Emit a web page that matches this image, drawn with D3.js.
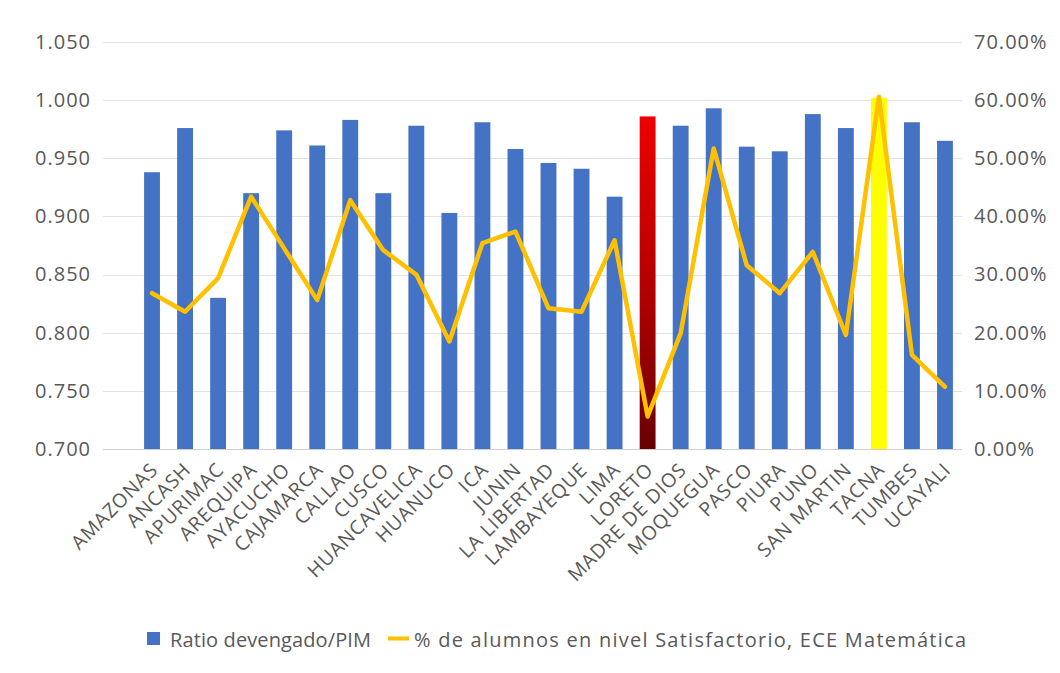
<!DOCTYPE html>
<html>
<head>
<meta charset="utf-8">
<script src="https://cdn.jsdelivr.net/npm/d3@7"></script>
<style>
  html, body { margin: 0; padding: 0; background: #ffffff; }
  svg { display: block; font-family: "Open Sans", "Noto Sans", sans-serif; }
</style>
</head>
<body>
<svg id="chart" width="1060" height="673"></svg>
<script>
// Regions of Peru
const regions = ["AMAZONAS", "ANCASH", "APURIMAC", "AREQUIPA", "AYACUCHO", "CAJAMARCA",
  "CALLAO", "CUSCO", "HUANCAVELICA", "HUANUCO", "ICA", "JUNIN", "LA LIBERTAD",
  "LAMBAYEQUE", "LIMA", "LORETO", "MADRE DE DIOS", "MOQUEGUA", "PASCO", "PIURA",
  "PUNO", "SAN MARTIN", "TACNA", "TUMBES", "UCAYALI"];

// Ratio devengado / PIM (left axis)
const ratioDevengado = [0.938, 0.976, 0.830, 0.920, 0.974, 0.961, 0.983, 0.920, 0.978,
  0.903, 0.981, 0.958, 0.946, 0.941, 0.917, 0.986, 0.978, 0.993, 0.960, 0.956, 0.988,
  0.976, 1.002, 0.981, 0.965];

// % of students at the satisfactory level, ECE Mathematics (right axis)
const pctSatisfactorio = [0.268, 0.236, 0.294, 0.434, 0.345, 0.256, 0.428, 0.342, 0.300,
  0.185, 0.354, 0.374, 0.242, 0.236, 0.359, 0.056, 0.199, 0.517, 0.316, 0.268, 0.339,
  0.196, 0.606, 0.162, 0.107];

// Axis ticks
const leftTicks = [0.700, 0.750, 0.800, 0.850, 0.900, 0.950, 1.000, 1.050];
const rightTicks = [0, 0.1, 0.2, 0.3, 0.4, 0.5, 0.6, 0.7];

const seriesNames = ["Ratio devengado/PIM", "% de alumnos en nivel Satisfactorio, ECE Matemática"];

const highlightLow = "LORETO";
const highlightHigh = "TACNA";

const svg = d3.select("#chart");
const plot = { left: 103, right: 962, top: 42, bottom: 449 };
const textColor = "#595959";

const x = d3.scaleBand()
  .domain(regions)
  .range([135.5, 961.5])
  .paddingInner(0.52)
  .paddingOuter(0.26);

const yLeft = d3.scaleLinear().domain([0.7, 1.05]).range([plot.bottom, plot.top]);
const yRight = d3.scaleLinear().domain([0, 0.7]).range([plot.bottom, plot.top]);

// Gradient for the lowest-result region
const defs = svg.append("defs");
const grad = defs.append("linearGradient")
  .attr("id", "lowGrad").attr("x1", 0).attr("y1", 0).attr("x2", 0).attr("y2", 1);
grad.append("stop").attr("offset", "0%").attr("stop-color", "#ee0000");
grad.append("stop").attr("offset", "55%").attr("stop-color", "#b00000");
grad.append("stop").attr("offset", "100%").attr("stop-color", "#680000");

// Horizontal gridlines
svg.append("g")
  .selectAll("line")
  .data(leftTicks)
  .join("line")
  .attr("x1", plot.left).attr("x2", plot.right)
  .attr("y1", d => Math.round(yLeft(d)) + 0.5)
  .attr("y2", d => Math.round(yLeft(d)) + 0.5)
  .attr("stroke", (d, i) => i === 0 ? "#cfcfcf" : "#e2e2e2")
  .attr("stroke-width", 1);

// Left axis labels
const leftAxis = d3.axisLeft(yLeft)
  .tickValues(leftTicks)
  .tickFormat(d => d3.format(".3f")(d))
  .tickSize(0)
  .tickPadding(0);
const gl = svg.append("g").attr("transform", "translate(91,0)").call(leftAxis);
gl.select(".domain").remove();
gl.selectAll("text").attr("fill", textColor).style("font-size", "20px")
  .style("letter-spacing", "1px")
  .style("font-family", "'Open Sans', sans-serif");

// Right axis labels
const rightAxis = d3.axisRight(yRight)
  .tickValues(rightTicks)
  .tickFormat(d => d3.format(".2%")(d))
  .tickSize(0)
  .tickPadding(0);
const gr = svg.append("g").attr("transform", "translate(974,0)").call(rightAxis);
gr.select(".domain").remove();
gr.selectAll("text").attr("fill", textColor).style("font-size", "20px")
  .style("letter-spacing", "1px")
  .style("font-family", "'Open Sans', sans-serif");

// Bars
const barData = regions.map((r, i) => ({ region: r, value: ratioDevengado[i] }));
svg.append("g")
  .selectAll("rect")
  .data(barData)
  .join("rect")
  .attr("x", d => x(d.region))
  .attr("width", x.bandwidth())
  .attr("y", d => yLeft(d.value))
  .attr("height", d => yLeft(0.7) - yLeft(d.value))
  .attr("fill", d => d.region === highlightLow ? "url(#lowGrad)"
    : d.region === highlightHigh ? "#ffff00" : "#4472c4");

// Line series
const lineData = regions.map((r, i) => ({ region: r, value: pctSatisfactorio[i] }));
const line = d3.line()
  .x(d => x(d.region) + x.bandwidth() / 2)
  .y(d => yRight(d.value));
svg.append("path")
  .datum(lineData)
  .attr("d", line)
  .attr("fill", "none")
  .attr("stroke", "#ffc000")
  .attr("stroke-width", 4.5)
  .attr("stroke-linejoin", "round")
  .attr("stroke-linecap", "round");

// Category labels, rotated
const xAxis = d3.axisBottom(x).tickSize(0).tickPadding(0);
const gx = svg.append("g").attr("transform", `translate(0,${plot.bottom})`).call(xAxis);
gx.select(".domain").remove();
gx.selectAll(".tick text")
  .attr("fill", textColor)
  .style("font-size", "19.5px")
  .style("letter-spacing", "0.8px")
  .style("font-family", "'Open Sans', sans-serif")
  .attr("text-anchor", "end")
  .attr("dy", 0)
  .attr("transform", "translate(7,22) rotate(-45)");

// Legend
const legend = svg.append("g").attr("transform", "translate(0,640)");
legend.append("rect")
  .attr("x", 147).attr("y", -8).attr("width", 13).attr("height", 13)
  .attr("fill", "#4472c4");
legend.append("text")
  .attr("x", 170).attr("y", 7)
  .attr("fill", textColor).style("font-size", "20px")
  .attr("textLength", 201).attr("lengthAdjust", "spacing")
  .text(seriesNames[0]);
legend.append("line")
  .attr("x1", 388).attr("x2", 409).attr("y1", -1.5).attr("y2", -1.5)
  .attr("stroke", "#ffc000").attr("stroke-width", 4);
legend.append("text")
  .attr("x", 414).attr("y", 7)
  .attr("fill", textColor).style("font-size", "20px")
  .attr("textLength", 552).attr("lengthAdjust", "spacing")
  .text(seriesNames[1]);
</script>
</body>
</html>
